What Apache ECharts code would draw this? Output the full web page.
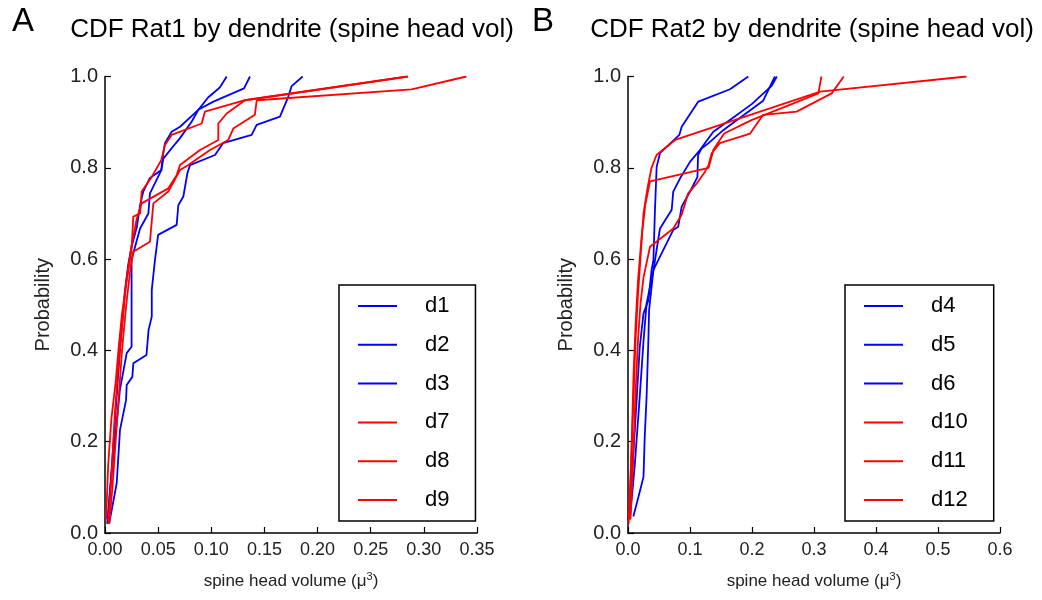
<!DOCTYPE html>
<html>
<head>
<meta charset="utf-8">
<script src="https://cdn.jsdelivr.net/npm/echarts@6/dist/echarts.min.js"></script>
<style>html,body{margin:0;padding:0;background:#fff}#c{width:1042px;height:600px}</style>
</head>
<body>
<div id="c"></div>
<script>
// ---- Panel A (Rat1) : [volume, probability]
const d1 = [[0.002,0.02],[0.005,0.1],[0.008,0.2],[0.011,0.3],[0.014,0.4],[0.0188,0.532],[0.022,0.59],[0.025,0.627],[0.030,0.671],[0.033,0.718],[0.036,0.748],[0.042,0.777],[0.053,0.795],[0.0543,0.824],[0.0564,0.854],[0.0627,0.879],[0.0706,0.89],[0.0878,0.927],[0.097,0.954],[0.108,0.976],[0.1145,1.0]];
const d2 = [[0.003,0.028],[0.0047,0.094],[0.0094,0.204],[0.014,0.313],[0.0204,0.394],[0.025,0.408],[0.025,0.51],[0.025,0.598],[0.030,0.642],[0.033,0.667],[0.0408,0.70],[0.0423,0.744],[0.053,0.795],[0.0549,0.82],[0.0659,0.852],[0.0706,0.865],[0.0815,0.901],[0.0878,0.927],[0.102,0.945],[0.1308,0.974],[0.1364,1.0]];
const d3 = [[0.004,0.022],[0.0063,0.05],[0.011,0.109],[0.0141,0.226],[0.0198,0.291],[0.0204,0.324],[0.0257,0.342],[0.0267,0.372],[0.039,0.39],[0.041,0.445],[0.044,0.474],[0.044,0.532],[0.047,0.598],[0.05,0.653],[0.0674,0.675],[0.069,0.718],[0.0737,0.737],[0.0775,0.788],[0.08,0.806],[0.1035,0.828],[0.111,0.854],[0.138,0.872],[0.1427,0.894],[0.1646,0.912],[0.1725,0.956],[0.1756,0.979],[0.186,1.0]];
const d7 = [[0.001,0.03],[0.003,0.15],[0.006,0.25],[0.01,0.33],[0.013,0.41],[0.016,0.48],[0.020,0.547],[0.025,0.62],[0.0266,0.693],[0.033,0.70],[0.0345,0.748],[0.044,0.78],[0.053,0.817],[0.0564,0.85],[0.0627,0.872],[0.091,0.897],[0.094,0.923],[0.1317,0.948],[0.285,1.0]];
const d8 = [[0.003,0.02],[0.006,0.12],[0.009,0.25],[0.012,0.35],[0.016,0.45],[0.02,0.55],[0.025,0.63],[0.03,0.69],[0.0345,0.722],[0.0596,0.755],[0.0674,0.784],[0.0706,0.806],[0.0894,0.839],[0.1066,0.861],[0.1066,0.897],[0.1145,0.919],[0.1317,0.948],[0.285,1.0]];
const d9 = [[0.004,0.02],[0.007,0.1],[0.01,0.2],[0.013,0.3],[0.016,0.4],[0.02,0.5],[0.024,0.58],[0.0266,0.616],[0.0423,0.638],[0.0455,0.722],[0.0596,0.748],[0.0706,0.795],[0.0784,0.806],[0.0988,0.839],[0.116,0.861],[0.1207,0.886],[0.141,0.916],[0.1427,0.948],[0.2885,0.972],[0.34,1.0]];
// ---- Panel B (Rat2)
const d4 = [[0.0005,0.028],[0.003,0.065],[0.011,0.226],[0.019,0.408],[0.025,0.481],[0.033,0.51],[0.038,0.576],[0.041,0.598],[0.0435,0.708],[0.0462,0.802],[0.0516,0.832],[0.0828,0.872],[0.0866,0.89],[0.1134,0.945],[0.1645,0.972],[0.194,1.0]];
const d5 = [[0.0086,0.036],[0.017,0.08],[0.025,0.123],[0.027,0.211],[0.03,0.299],[0.033,0.43],[0.034,0.488],[0.041,0.576],[0.046,0.59],[0.073,0.664],[0.081,0.671],[0.0866,0.715],[0.1,0.748],[0.112,0.78],[0.113,0.828],[0.119,0.843],[0.13,0.854],[0.154,0.883],[0.218,0.947],[0.237,1.0]];
const d6 = [[0.003,0.03],[0.011,0.15],[0.019,0.3],[0.025,0.42],[0.03,0.503],[0.041,0.576],[0.0516,0.667],[0.0705,0.708],[0.073,0.748],[0.084,0.777],[0.1,0.813],[0.116,0.839],[0.1376,0.879],[0.17,0.91],[0.2,0.94],[0.232,0.98],[0.24,1.0]];
const d10 = [[0.002,0.03],[0.006,0.2],[0.009,0.35],[0.012,0.45],[0.016,0.55],[0.022,0.65],[0.028,0.72],[0.0355,0.77],[0.13,0.80],[0.138,0.84],[0.155,0.875],[0.2,0.905],[0.267,0.941],[0.307,0.963],[0.312,1.0]];
const d11 = [[0.004,0.03],[0.008,0.15],[0.012,0.3],[0.016,0.42],[0.02,0.5],[0.025,0.56],[0.0355,0.627],[0.073,0.667],[0.0866,0.697],[0.097,0.744],[0.111,0.766],[0.124,0.791],[0.13,0.806],[0.135,0.832],[0.148,0.854],[0.197,0.875],[0.218,0.916],[0.272,0.923],[0.3285,0.963],[0.348,1.0]];
const d12 = [[0.001,0.02],[0.005,0.15],[0.009,0.3],[0.012,0.42],[0.016,0.52],[0.02,0.6],[0.025,0.7],[0.032,0.76],[0.038,0.80],[0.046,0.828],[0.076,0.861],[0.31,0.967],[0.546,1.0]];

const namesA = ['d1','d2','d3','d7','d8','d9'];
const namesB = ['d4','d5','d6','d10','d11','d12'];
const dataA = [d1,d2,d3,d7,d8,d9];
const dataB = [d4,d5,d6,d10,d11,d12];
const colorsA = ['#0000ff','#0000ff','#0000ff','#ff0000','#ff0000','#ff0000'];
const xTicksA = {min:0, max:0.35, interval:0.05, digits:2};
const xTicksB = {min:0, max:0.6, interval:0.1, digits:1};
const yTicks = {min:0, max:1, interval:0.2, digits:1};

const FONT = 'Liberation Sans, Arial, sans-serif';
const axisCommon = {
  axisLine:{show:true, lineStyle:{color:'#000', width:1.5}},
  axisTick:{show:true, inside:true, length:6, lineStyle:{color:'#000', width:1.2}},
  splitLine:{show:false}
};
function xAx(idx, t){
  return Object.assign({}, axisCommon, {type:'value', gridIndex:idx, min:t.min, max:t.max, interval:t.interval,
    name:'spine head volume (μ{sup|3})', nameLocation:'middle', nameGap:38,
    nameTextStyle:{color:'#222', fontSize:17, fontFamily:FONT,
      rich:{sup:{fontSize:11, fontFamily:FONT, color:'#222', padding:[0,0,9,0]}}},
    axisLabel:{color:'#222', fontSize:18, fontFamily:FONT, margin:8, formatter:v=>v.toFixed(t.digits)}});
}
function yAx(idx){
  return Object.assign({}, axisCommon, {type:'value', gridIndex:idx, min:yTicks.min, max:yTicks.max, interval:yTicks.interval,
    name:'Probability', nameLocation:'middle', nameGap:52,
    nameTextStyle:{color:'#222', fontSize:20, fontFamily:FONT},
    axisLabel:{color:'#222', fontSize:20, fontFamily:FONT, margin:7, formatter:v=>v.toFixed(yTicks.digits)}});
}
function legend(names, left){
  return {data:names, orient:'vertical', left:left, top:285, icon:'rect', itemWidth:39, itemHeight:2, itemGap:16.8,
    padding:[10,26,10,19], borderColor:'#000', borderWidth:1.5, backgroundColor:'#fff',
    textStyle:{fontSize:22, color:'#000', fontFamily:FONT, lineHeight:22, padding:[0,0,0,23]}};
}
const series = [];
dataA.forEach((d,i)=>series.push({name:namesA[i], type:'line', xAxisIndex:0, yAxisIndex:0, data:d, showSymbol:false, symbol:'none',
  lineStyle:{color:colorsA[i], width:1.8}, itemStyle:{color:colorsA[i]}}));
dataB.forEach((d,i)=>series.push({name:namesB[i], type:'line', xAxisIndex:1, yAxisIndex:1, data:d, showSymbol:false, symbol:'none',
  lineStyle:{color:colorsA[i], width:1.8}, itemStyle:{color:colorsA[i]}}));

const chart = echarts.init(document.getElementById('c'), null, {renderer:'canvas'});
chart.setOption({
  animation:false,
  backgroundColor:'#fff',
  title:[
    {text:'CDF Rat1 by dendrite (spine head vol)', left:292, top:17, textAlign:'center', padding:0, textStyle:{fontSize:26, fontWeight:'normal', color:'#000', fontFamily:FONT}},
    {text:'CDF Rat2 by dendrite (spine head vol)', left:812, top:17, textAlign:'center', padding:0, textStyle:{fontSize:26, fontWeight:'normal', color:'#000', fontFamily:FONT}},
    {text:'A', left:12, top:5, padding:0, textStyle:{fontSize:33, fontWeight:'normal', color:'#000', fontFamily:FONT}},
    {text:'B', left:532, top:5, padding:0, textStyle:{fontSize:33, fontWeight:'normal', color:'#000', fontFamily:FONT}}
  ],
  grid:[
    {left:105, top:76.5, width:372, height:456.5},
    {left:628, top:76.5, width:372, height:456.5}
  ],
  xAxis:[xAx(0,xTicksA), xAx(1,xTicksB)],
  yAxis:[yAx(0), yAx(1)],
  legend:[legend(namesA,339), legend(namesB,845)],
  series:series
});
</script>
</body>
</html>
